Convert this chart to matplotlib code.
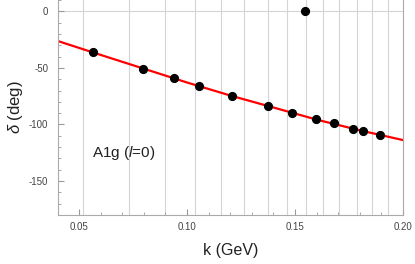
import matplotlib
matplotlib.use("Agg")
import matplotlib.pyplot as plt
from matplotlib.ticker import MultipleLocator

plt.rcParams['font.family'] = ['Liberation Sans', 'DejaVu Sans']
plt.rcParams['axes.unicode_minus'] = False
plt.rcParams['mathtext.fontset'] = 'custom'
plt.rcParams['mathtext.it'] = 'Liberation Sans:italic'

# phase shift data
k_data = [0.0563, 0.0798, 0.0938, 0.1054, 0.1208, 0.1376, 0.1485,
          0.1596, 0.1679, 0.1770, 0.1816, 0.1892]
delta_data = [-36.2, -50.7, -59.3, -66.0, -74.9, -83.7, -89.6,
              -95.5, -99.0, -104.1, -105.6, -109.1]
k_outlier = [0.1546]
delta_outlier = [0.0]

# fit curve samples
k_fit = [0.0403, 0.06, 0.08, 0.10, 0.12, 0.14, 0.16, 0.18, 0.20]
delta_fit = [-26.3, -38.5, -50.7, -62.9, -74.4, -85.0, -95.7, -105.2, -113.8]

# vertical grid lines
k_grid = [0.0520, 0.0731, 0.0898, 0.1037, 0.1156, 0.1265, 0.1376, 0.1462,
          0.1550, 0.1631, 0.1704, 0.1788, 0.1858, 0.1929]

fig = plt.figure(figsize=(4.15, 2.64), dpi=100)
ax = fig.add_axes([0.1398, 0.1856, 0.8315, 0.8144])

for kg in k_grid:
    ax.axvline(kg, color='#d4d4d4', lw=0.8, zorder=0)
ax.axhline(0, color='#d4d4d4', lw=0.8, zorder=0)

ax.plot(k_fit, delta_fit, color='#ff0000', lw=1.6, zorder=2)
ax.plot(k_data, delta_data, 'o', color='black', ms=5.6, zorder=3)
ax.plot(k_outlier, delta_outlier, 'o', color='black', ms=5.6, zorder=3)

ax.set_xlim(0.0403, 0.20)
ax.set_ylim(-180, 10)
ax.xaxis.set_minor_locator(MultipleLocator(0.01))
ax.yaxis.set_major_locator(MultipleLocator(50))
ax.yaxis.set_minor_locator(MultipleLocator(10))
ax.set_xticks([0.05, 0.10, 0.15, 0.20])
ax.set_xticklabels(['0.05', '0.10', '0.15', '0.20'])

ax.tick_params(which='both', direction='in', colors='#999999',
               labelcolor='#444444', labelsize=7)
ax.tick_params(which='major', length=4, width=0.8)
ax.tick_params(which='minor', length=2.5, width=0.6)
ax.tick_params(axis='y', pad=7)
ax.tick_params(axis='x', pad=5)

ax.spines['top'].set_visible(False)
for side in ['left', 'bottom', 'right']:
    ax.spines[side].set_color('#aaaaaa')
    ax.spines[side].set_linewidth(0.8)

ax.set_xlabel('k (GeV)', fontsize=11.5, color='#222222', labelpad=8)
ax.set_ylabel(r'$\delta$ (deg)', fontsize=12, color='#222222', labelpad=3)

ax.text(0.056, -125.3, r'A1g ($l$=0)', fontsize=11, ha='left', va='center',
        color='#222222')

fig.savefig('out.png', dpi=100)
